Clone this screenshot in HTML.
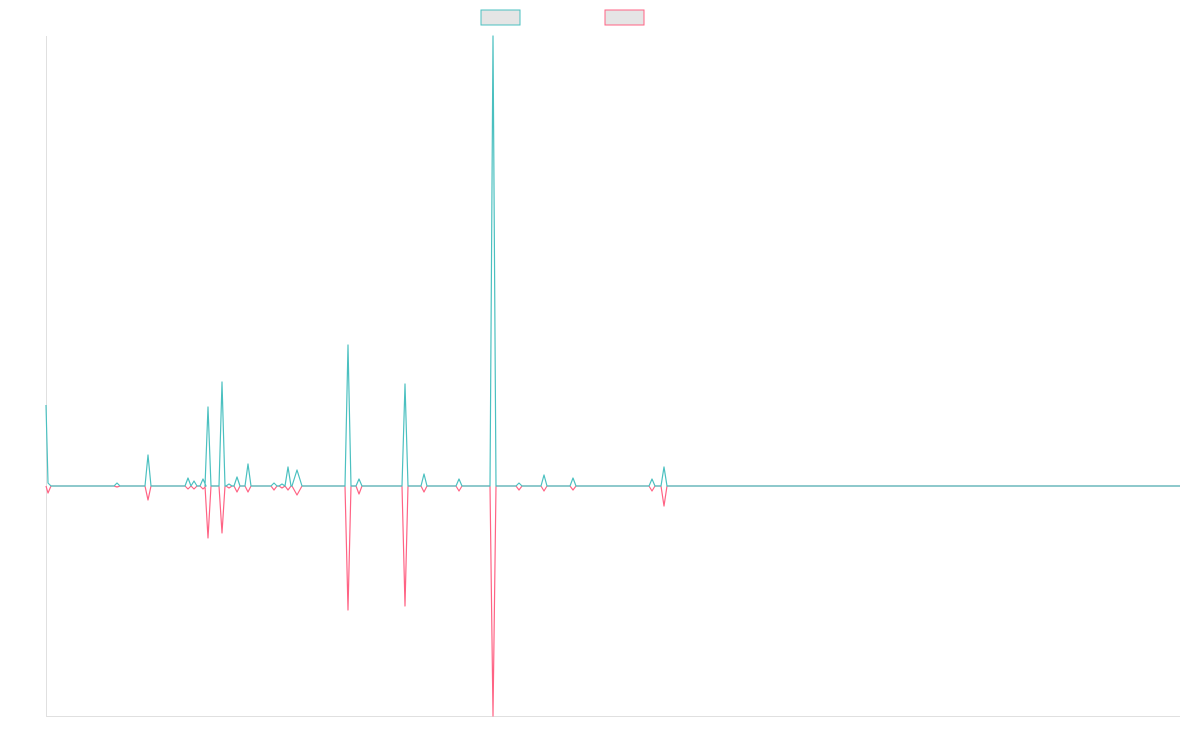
<!DOCTYPE html>
<html><head><style>body{margin:0;background:#fff}svg{display:block}</style></head><body>
<svg width="1200" height="750" viewBox="0 0 1200 750">
<rect x="481" y="10" width="39" height="15" fill="#e5e5e5" stroke="#4bc0c0" stroke-width="1"/>
<rect x="605" y="10" width="39" height="15" fill="#e5e5e5" stroke="#ff6384" stroke-width="1"/>
<line x1="46.5" y1="36" x2="46.5" y2="716" stroke="#e0e0e0"/>
<line x1="46" y1="716.5" x2="1180" y2="716.5" stroke="#e0e0e0"/>
<g id="g" fill="none" stroke-width="1.2" stroke-linejoin="round"></g>
</svg>
<script>
var d=[[117,483,487],[148,455,500],[188,478,489],[194,481,489],[203,479,489],[208,407,538],[222,382,533],[229,484,488],[237,477,492],[248,464,492],[274,483,490],[282,484,488],[288,467,490],[297,470,495],[348,345,610],[359,479,494],[405,384,606],[424,474,492],[459,479,491],[493,36,716],[519,483,490],[544,475,491],[573,478,490],[652,479,491],[664,467,506]];
function build(i,start){var p=start;d.forEach(function(s){var w=s[0]==297?5:3;p+=" "+(s[0]-w)+",486 "+s[0]+","+s[i]+" "+(s[0]+w)+",486";});return p+" 1180,486";}
var g=document.getElementById('g');
g.innerHTML='<polyline stroke="#ff6384" points="'+build(2,"46,486 48,493 51,486")+'"/><polyline stroke="#4bc0c0" points="'+build(1,"46,405 48,483 51,486")+'"/>';
</script>
</body></html>
